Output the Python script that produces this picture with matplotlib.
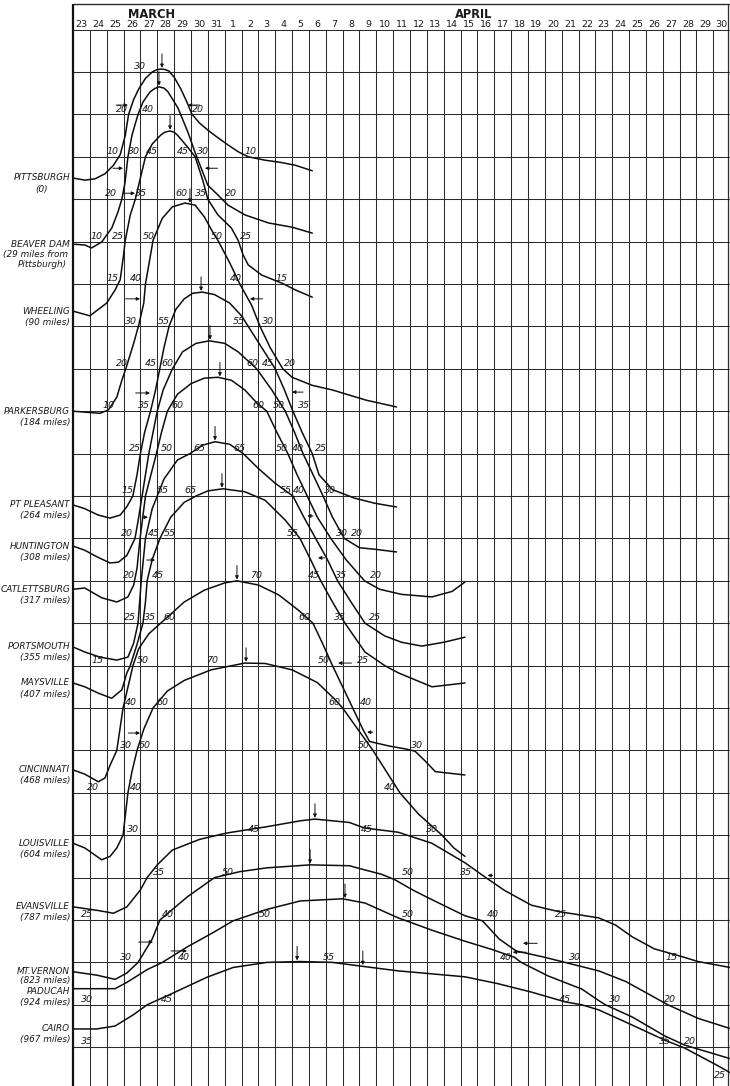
import matplotlib
matplotlib.use("Agg")
import matplotlib.pyplot as plt
import numpy as np

# x: days counted from the start of March 23 (one column per day)
# y: grid rows, 10 ft of gage height per row
MARCH_DAYS = list(range(23, 32))
APRIL_DAYS = list(range(1, 31))

STATIONS = ["PITTSBURGH", "BEAVER DAM", "WHEELING", "PARKERSBURG", "PT PLEASANT",
            "HUNTINGTON", "CATLETTSBURG", "PORTSMOUTH", "MAYSVILLE", "CINCINNATI",
            "LOUISVILLE", "EVANSVILLE", "MT.VERNON", "PADUCAH", "CAIRO"]
MILES = [0, 29, 90, 184, 264, 308, 317, 355, 407, 468, 604, 787, 823, 924, 967]
ZERO_ROW = [4.0, 6.0, 7.5, 10.0, 12.5, 14.0, 15.0, 16.5, 17.5, 20.0,
            22.0, 23.5, 25.0, 26.0, 27.5]

pittsburgh_days = [0, 0.7, 1.3, 1.9, 2.4, 2.8, 3.1, 3.3, 3.6, 3.9, 4.3, 4.7, 4.95, 5.2, 5.45,
                   5.7, 6.0, 6.4, 6.75, 7.05, 7.5, 8.0, 8.6, 9.2, 9.8, 10.4, 11.4, 12.3, 13.2, 14.2]
pittsburgh_stage = [5.0, 4.5, 4.8, 6.0, 8.0, 10.5, 15.0, 20.0, 23.5, 26.0, 28.5, 30.0, 30.5, 30.7,
                    30.6, 30.2, 28.8, 26.0, 23.0, 20.1, 18.0, 16.3, 14.5, 12.8, 11.2, 10.0, 9.2,
                    8.7, 8.0, 6.7]

beaver_days = [0, 0.7, 1.1, 1.7, 2.3, 2.67, 2.9, 3.09, 3.26, 3.5, 3.86, 4.15, 4.57, 4.85, 5.1,
               5.4, 5.64, 6.23, 6.82, 7.24, 7.54, 8.0, 8.6, 9.2, 10.2, 11.6, 13.0, 14.2]
beaver_stage = [9.4, 9.2, 8.5, 9.9, 13.2, 17.0, 20.0, 24.0, 30.0, 35.1, 40.0, 42.9, 45.3, 46.1,
                46.5, 46.2, 45.3, 41.5, 35.8, 31.1, 28.0, 23.3, 21.0, 18.6, 16.3, 14.4, 13.4, 12.0]

wheeling_days = [0, 1.0, 2.0, 2.5, 2.8, 3.0, 3.1, 3.4, 3.7, 4.0, 4.3, 4.7, 5.2, 5.45, 5.75, 6.0,
                 6.2, 6.8, 7.25, 7.7, 8.0, 8.6, 9.4, 9.8, 10.1, 10.4, 11.2, 12.4, 13.2, 14.2]
wheeling_stage = [8.6, 7.5, 10.5, 13.6, 16.0, 21.8, 25.3, 31.3, 35.0, 40.0, 45.0, 48.0, 50.1, 50.8,
                  51.1, 50.8, 50.1, 47.3, 45.0, 39.5, 35.0, 31.3, 28.2, 25.3, 21.8, 19.5, 17.1,
                  15.2, 13.6, 11.9]

parkersburg_days = [0, 1.6, 2.1, 2.6, 2.9, 3.15, 3.6, 3.9, 4.2, 4.3, 4.6, 4.75, 5.3, 5.9, 6.65,
                    7.25, 7.8, 8.3, 8.6, 9.3, 9.9, 10.6, 11.1, 11.7, 12.45, 13.0, 14.2, 15.4, 17.4, 19.2]
parkersburg_stage = [10.0, 9.5, 10.3, 13.3, 17.3, 20.2, 26.0, 30.3, 35.5, 40.0, 46.8, 50.3, 55.5,
                     58.2, 59.1, 58.6, 55.8, 52.2, 50.3, 45.0, 40.0, 35.0, 30.0, 25.0, 20.0, 18.0,
                     16.1, 15.0, 12.6, 11.0]

ptpleasant_days = [0, 0.7, 1.5, 2.2, 2.8, 3.2, 3.55, 3.8, 4.0, 4.25, 4.6, 4.9, 5.15, 5.4, 5.7,
                   6.1, 6.6, 7.1, 7.66, 8.4, 9.3, 10.0, 10.4, 11.2, 12.0, 12.55, 13.05, 13.6,
                   14.2, 14.6, 15.4, 16.7, 17.9, 19.2]
ptpleasant_stage = [12.9, 12.0, 10.5, 9.8, 10.5, 12.5, 15.0, 20.0, 25.0, 30.0, 35.0, 40.0, 45.0,
                    50.0, 55.0, 59.0, 61.5, 62.8, 63.1, 62.5, 60.5, 57.5, 55.0, 50.0, 45.0, 40.0,
                    35.0, 30.0, 25.0, 20.0, 16.5, 14.5, 13.3, 12.4]

huntington_days = [0, 0.7, 1.5, 2.2, 2.7, 3.2, 3.68, 3.9, 4.1, 4.3, 4.5, 4.75, 5.0, 5.35, 5.9,
                   6.5, 7.3, 8.1, 9.0, 9.8, 10.9, 11.8, 12.6, 13.15, 13.65, 14.25, 14.84, 15.4,
                   16.1, 17.0, 18.0, 19.2]
huntington_stage = [18.2, 17.2, 15.5, 14.2, 14.4, 16.0, 20.0, 25.0, 30.0, 35.0, 40.0, 45.0, 50.0,
                    55.0, 60.0, 64.0, 66.0, 66.6, 66.0, 64.0, 60.0, 55.0, 50.0, 45.0, 40.0, 35.0,
                    30.0, 25.0, 20.0, 17.8, 17.4, 16.8]

catlettsburg_days = [0, 0.7, 1.7, 2.6, 3.26, 3.6, 3.8, 3.98, 4.3, 4.95, 5.25, 5.6, 6.2, 7.0, 7.8,
                     8.6, 9.4, 10.2, 10.9, 11.5, 12.1, 12.75, 13.3, 13.9, 14.5, 15.3, 16.2, 17.3,
                     18.2, 19.5, 21.3, 22.5, 23.26]
catlettsburg_stage = [18.0, 18.3, 16.0, 15.0, 16.2, 19.0, 23.0, 30.0, 40.0, 50.0, 55.0, 60.0, 64.0,
                      66.5, 67.8, 68.0, 67.3, 65.0, 62.0, 60.0, 55.0, 50.0, 45.0, 40.0, 35.0, 30.0,
                      25.0, 20.0, 18.0, 16.8, 16.2, 17.5, 19.7]

portsmouth_days = [0, 0.7, 1.6, 2.6, 3.26, 3.6, 3.86, 4.05, 4.3, 4.7, 5.4, 6.2, 6.94, 7.7, 8.43,
                   9.3, 10.1, 11.0, 12.0, 13.05, 13.7, 14.4, 15.1, 15.7, 16.5, 17.33, 18.5, 19.5,
                   20.7, 22.0, 23.26]
portsmouth_stage = [19.4, 18.2, 17.0, 16.3, 17.0, 20.3, 25.0, 35.0, 45.0, 52.0, 59.0, 63.5, 65.0,
                    67.0, 67.8, 67.2, 65.0, 61.5, 58.0, 55.0, 50.0, 45.0, 40.0, 35.0, 30.0, 25.0,
                    22.0, 20.5, 19.6, 20.5, 21.7]

maysville_days = [0, 0.7, 1.5, 2.3, 2.9, 3.2, 3.4, 3.8, 4.15, 4.3, 4.4, 4.7, 5.16, 5.8, 6.6, 7.3,
                  8.0, 8.9, 10.2, 11.4, 12.6, 13.47, 14.1, 14.7, 15.4, 16.14, 17.33, 18.5, 19.3,
                  21.3, 23.26]
maysville_stage = [20.9, 20.0, 18.5, 17.3, 19.3, 23.3, 25.0, 30.0, 35.0, 40.0, 45.0, 50.0, 55.0,
                   60.0, 63.5, 65.0, 66.2, 66.7, 66.0, 64.0, 59.3, 55.0, 50.0, 45.0, 40.0, 35.0,
                   28.2, 25.0, 23.3, 20.0, 20.9]

cincinnati_days = [0, 0.7, 1.5, 1.9, 2.2, 2.6, 2.97, 3.56, 3.9, 4.5, 5.2, 6.6, 7.8, 9.0, 9.73,
                   11.0, 12.2, 13.4, 14.24, 14.8, 15.4, 16.0, 16.6, 17.2, 17.6, 18.8, 19.8, 20.3,
                   20.9, 21.5, 23.26]
cincinnati_stage = [25.4, 24.4, 22.6, 23.5, 26.5, 30.0, 40.0, 50.0, 54.0, 57.5, 60.0, 65.0, 67.8,
                    69.5, 70.0, 69.0, 66.7, 63.0, 60.0, 55.3, 50.0, 45.0, 40.0, 35.0, 32.1, 31.0,
                    30.3, 29.8, 27.5, 25.0, 24.2]

louisville_days = [0, 0.7, 1.7, 2.2, 2.6, 2.97, 3.26, 3.5, 3.8, 4.2, 4.75, 5.6, 6.6, 8.2, 10.2,
                   11.4, 13.0, 14.5, 15.55, 16.0, 16.9, 17.8, 18.6, 19.4, 20.5, 21.9, 22.6, 23.26]
louisville_stage = [28.1, 27.0, 24.2, 25.0, 27.0, 30.0, 40.0, 45.0, 50.0, 55.0, 60.0, 64.0, 66.5,
                    69.0, 70.6, 70.5, 69.0, 66.0, 62.0, 60.0, 55.0, 50.0, 45.0, 40.0, 35.0, 30.0,
                    27.0, 25.0]

evansville_days = [0, 1.4, 2.4, 3.2, 4.0, 4.4, 5.0, 5.9, 7.5, 9.1, 11.5, 13.5, 14.36, 16.4, 17.3,
                   19.3, 21.3, 23.26, 24.5, 25.6, 27.2, 28.8, 31.2, 32.2, 33.2, 34.5, 36.1, 37.1, 39.0]
evansville_stage = [28.1, 27.3, 26.6, 28.1, 32.1, 35.0, 38.0, 41.5, 44.0, 45.5, 47.0, 48.4, 48.8,
                    48.0, 46.7, 45.7, 43.1, 38.5, 35.0, 32.0, 28.5, 27.0, 25.5, 23.8, 21.0, 18.2,
                    16.4, 15.2, 13.8]

mtvernon_days = [0, 1.4, 2.5, 3.2, 3.86, 4.7, 5.16, 6.8, 8.4, 9.9, 11.5, 14.07, 16.4, 17.33, 18.3,
                 19.1, 20.2, 21.3, 23.26, 24.3, 25.3, 26.3, 28.0, 29.2, 31.2, 32.8, 34.4, 35.3,
                 37.1, 39.0]
mtvernon_stage = [27.8, 27.0, 26.0, 27.5, 30.0, 35.5, 40.0, 45.5, 50.0, 51.4, 52.3, 53.0, 52.8,
                  51.8, 50.8, 49.5, 47.0, 44.8, 41.0, 39.8, 35.5, 32.7, 31.2, 30.0, 28.0, 25.5,
                  22.0, 20.0, 16.8, 14.4]

paducah_days = [0, 1.6, 2.5, 3.2, 4.4, 5.3, 6.8, 8.3, 9.5, 11.5, 13.5, 16.0, 17.33, 19.3, 21.3,
                23.26, 24.9, 26.2, 26.6, 28.2, 30.2, 31.2, 31.6, 33.2, 35.1, 36.3, 39.0]
paducah_stage = [33.8, 33.8, 33.8, 35.3, 38.3, 40.0, 43.7, 47.0, 49.8, 52.5, 54.5, 55.0, 54.0,
                 50.5, 47.6, 45.0, 43.0, 41.2, 40.0, 36.8, 33.7, 31.0, 30.0, 27.1, 22.7, 20.5, 17.3]

cairo_days = [0, 1.4, 2.5, 3.6, 4.4, 5.9, 7.95, 9.5, 11.5, 13.5, 15.4, 17.33, 19.3, 21.3, 23.26,
              25.2, 27.2, 29.2, 30.2, 31.2, 33.2, 35.1, 36.3, 38.1, 39.0]
cairo_stage = [39.3, 39.3, 40.0, 42.7, 45.0, 47.7, 51.5, 53.8, 55.0, 55.2, 55.0, 54.0, 53.0, 52.3,
               51.6, 50.0, 48.0, 45.7, 45.0, 43.8, 40.2, 36.7, 34.8, 31.0, 29.0]

HYDROGRAPHS = [
    (pittsburgh_days, pittsburgh_stage), (beaver_days, beaver_stage),
    (wheeling_days, wheeling_stage), (parkersburg_days, parkersburg_stage),
    (ptpleasant_days, ptpleasant_stage), (huntington_days, huntington_stage),
    (catlettsburg_days, catlettsburg_stage), (portsmouth_days, portsmouth_stage),
    (maysville_days, maysville_stage), (cincinnati_days, cincinnati_stage),
    (louisville_days, louisville_stage), (evansville_days, evansville_stage),
    (mtvernon_days, mtvernon_stage), (paducah_days, paducah_stage),
    (cairo_days, cairo_stage),
]

# crest arrows: (station index, day)
CRESTS = [(0, 5.28), (1, 5.1), (2, 5.76), (3, 6.94), (4, 7.6), (5, 8.13), (6, 8.72),
          (7, 8.43), (8, 8.84), (9, 9.73), (10, 10.27), (11, 14.36), (12, 14.07),
          (13, 16.14), (14, 13.3), (14, 17.2)]

# gage readings written where the curves cross the rules: (day, row, feet)
READINGS = [
    (3.98, 1, "30"),
    (2.91, 2, "20"), (4.45, 2, "40"), (7.42, 2, "20"),
    (2.37, 3, "10"), (3.62, 3, "30"), (4.69, 3, "45"), (6.53, 3, "45"), (7.72, 3, "30"), (10.56, 3, "10"),
    (2.26, 4, "20"), (4.04, 4, "35"), (6.41, 4, "60"), (7.60, 4, "35"), (9.38, 4, "20"),
    (1.37, 5, "10"), (2.67, 5, "25"), (4.51, 5, "50"), (8.55, 5, "50"), (10.27, 5, "25"),
    (2.37, 6, "15"), (3.74, 6, "40"), (9.67, 6, "40"), (12.4, 6, "15"),
    (3.44, 7, "30"), (5.40, 7, "55"), (9.85, 7, "55"), (11.57, 7, "30"),
    (2.91, 8, "20"), (4.63, 8, "45"), (5.58, 8, "60"), (10.62, 8, "60"), (11.57, 8, "45"), (12.88, 8, "20"),
    (2.08, 9, "10"), (4.21, 9, "35"), (6.17, 9, "60"), (10.98, 9, "60"), (12.23, 9, "50"), (13.71, 9, "35"),
    (3.68, 10, "25"), (5.58, 10, "50"), (7.48, 10, "65"), (9.85, 10, "65"), (12.40, 10, "50"),
    (13.35, 10, "40"), (14.72, 10, "25"),
    (3.26, 11, "15"), (5.34, 11, "55"), (6.94, 11, "65"), (12.64, 11, "55"), (13.41, 11, "40"), (15.25, 11, "30"),
    (3.2, 12, "20"), (4.81, 12, "45"), (5.76, 12, "55"), (13.06, 12, "55"), (15.96, 12, "30"), (16.85, 12, "20"),
    (3.32, 13, "20"), (5.04, 13, "45"), (10.86, 13, "70"), (14.30, 13, "45"), (15.91, 13, "35"), (17.98, 13, "20"),
    (3.38, 14, "25"), (4.57, 14, "35"), (5.70, 14, "60"), (13.71, 14, "60"), (15.85, 14, "35"), (17.92, 14, "25"),
    (1.48, 15, "15"), (4.15, 15, "50"), (8.25, 15, "70"), (14.90, 15, "50"), (17.21, 15, "25"),
    (3.44, 16, "40"), (5.28, 16, "60"), (15.49, 16, "60"), (17.39, 16, "40"),
    (3.15, 17, "30"), (4.27, 17, "50"), (17.27, 17, "50"), (20.42, 17, "30"),
    (1.19, 18, "20"), (3.74, 18, "40"), (18.81, 18, "40"),
    (3.56, 19, "30"), (10.74, 19, "45"), (17.45, 19, "45"), (21.31, 19, "30"),
    (5.10, 20, "35"), (9.20, 20, "50"), (19.88, 20, "50"), (23.32, 20, "35"),
    (0.83, 21, "25"), (5.64, 21, "40"), (11.39, 21, "50"), (19.88, 21, "50"), (24.93, 21, "40"), (28.96, 21, "25"),
    (3.15, 22, "30"), (6.59, 22, "40"), (15.19, 22, "55"), (25.70, 22, "40"), (29.79, 22, "30"), (35.55, 22, "15"),
    (0.83, 23, "30"), (5.58, 23, "45"), (29.20, 23, "45"), (32.17, 23, "30"), (35.43, 23, "20"),
    (0.83, 24, "35"), (35.13, 24, "35"), (36.62, 24, "20"),
    (38.40, 24.8, "25"),
]

# side arrows: (day of tip, row, direction, length in days)
SIDE_ARROWS = [
    (3.26, 1.78, 1, 0.7), (6.82, 1.78, -1, 0.7), (2.97, 3.27, 1, 0.6), (7.83, 3.27, -1, 0.75),
    (3.68, 3.86, 1, 0.7), (3.98, 6.35, 1, 0.85), (10.5, 6.35, -1, 0.75), (4.57, 8.57, 1, 0.85),
    (13.0, 8.55, -1, 0.65), (15.73, 14.94, -1, 0.8), (3.98, 16.59, 1, 0.7), (4.75, 21.52, 1, 0.85),
    (6.77, 21.73, 1, 0.95), (26.7, 21.55, -1, 0.85), (26.1, 21.76, -1, 0.8),
    (4.45, 11.5, 1, 0.35), (13.9, 11.47, -1, 0.35), (4.87, 12.51, 1, 0.5), (14.54, 12.46, -1, 0.4),
    (17.45, 16.57, -1, 0.35), (24.6, 19.95, -1, 0.3),
]

PX_PER_DAY = 16.85
LEFT_PX = 73.0
FIG_W, FIG_H = 730, 1086
TOP_ROW_PX = 29.6
PX_PER_ROW = 42.4


def station_rows(i):
    return ZERO_ROW[i] - np.asarray(HYDROGRAPHS[i][1], dtype=float) / 10.0


def draw_grid(ax, n_days, n_rows):
    ink = "#2b2b2b"
    ax.vlines(np.arange(1, n_days + 1), 0, n_rows + 1, color=ink, lw=0.75)
    ax.hlines(np.arange(0, n_rows + 1), 0, n_days, color=ink, lw=0.75)
    top = -26.0 / PX_PER_ROW
    ax.hlines(top, 0, n_days, color=ink, lw=1.0)
    ax.vlines(0, top, n_rows + 1, color="#111", lw=1.6)
    ax.vlines(n_days - 0.15, top, n_rows + 1, color=ink, lw=0.9)


def draw_header(ax, days):
    for i, label in enumerate(days):
        ax.text(i + 0.5, -0.13, str(label), ha="center", va="center", fontsize=6.8,
                color="#1a1a1a", family="DejaVu Sans")
    ax.text(4.63, -0.345, "MARCH", ha="center", va="center", fontsize=8.3,
            color="#1a1a1a", family="DejaVu Sans", weight="bold")
    ax.text(23.8, -0.36, "APRIL", ha="center", va="center", fontsize=8.3,
            color="#1a1a1a", family="DejaVu Sans", weight="bold")


def draw_station_names(ax):
    x_right = (70 - LEFT_PX) / PX_PER_DAY
    style = dict(fontsize=6.4, style="italic", color="#1a1a1a", family="DejaVu Sans", va="center")
    for i, name in enumerate(STATIONS):
        r0 = station_rows(i)[0]
        gap = 0.26
        if name == "MT.VERNON":
            gap = 0.2
        if name == "PADUCAH":
            r0 += 0.07
        ax.text(x_right, r0, name, ha="right", **style)
        if MILES[i] == 0:
            ax.text((42 - LEFT_PX) / PX_PER_DAY, r0 + gap, "(0)", ha="center", **style)
        elif i == 1:
            ax.text((68 - LEFT_PX) / PX_PER_DAY, r0 + 0.235, f"({MILES[i]} miles from", ha="right", **style)
            ax.text((67 - LEFT_PX) / PX_PER_DAY, r0 + 0.47, "Pittsburgh)", ha="right", **style)
        else:
            ax.text(x_right, r0 + gap, f"({MILES[i]} miles)", ha="right", **style)


def draw_curves(ax):
    for i, (days, _) in enumerate(HYDROGRAPHS):
        ax.plot(days, station_rows(i), color="#0d0d0d", lw=1.1,
                solid_joinstyle="round", solid_capstyle="round")


def draw_marks(ax):
    arrow = dict(arrowstyle="-|>", color="#111", lw=0.7, mutation_scale=5,
                 shrinkA=0, shrinkB=0)
    for i, day in CRESTS:
        y = np.interp(day, HYDROGRAPHS[i][0], station_rows(i))
        ax.annotate("", xy=(day, y - 0.03), xytext=(day, y - 0.36), arrowprops=arrow)
    for day, row, direction, length in SIDE_ARROWS:
        ax.annotate("", xy=(day, row), xytext=(day - direction * length, row), arrowprops=arrow)
    for day, row, text in READINGS:
        ax.text(day, row - 0.02, text, ha="center", va="bottom", fontsize=6.8,
                style="italic", color="#1a1a1a", family="DejaVu Sans")


def main():
    days = MARCH_DAYS + APRIL_DAYS
    n_days = len(days)
    fig = plt.figure(figsize=(FIG_W / 100, FIG_H / 100), dpi=100)
    ax = fig.add_axes([0, 0, 1, 1])
    ax.set_xlim(-LEFT_PX / PX_PER_DAY, (FIG_W - LEFT_PX) / PX_PER_DAY)
    ax.set_ylim((FIG_H - TOP_ROW_PX) / PX_PER_ROW, -TOP_ROW_PX / PX_PER_ROW)
    ax.axis("off")

    draw_grid(ax, n_days, 25)
    draw_header(ax, days)
    draw_station_names(ax)
    draw_curves(ax)
    draw_marks(ax)

    fig.savefig("out.png", dpi=100, facecolor="white")


if __name__ == "__main__":
    main()
